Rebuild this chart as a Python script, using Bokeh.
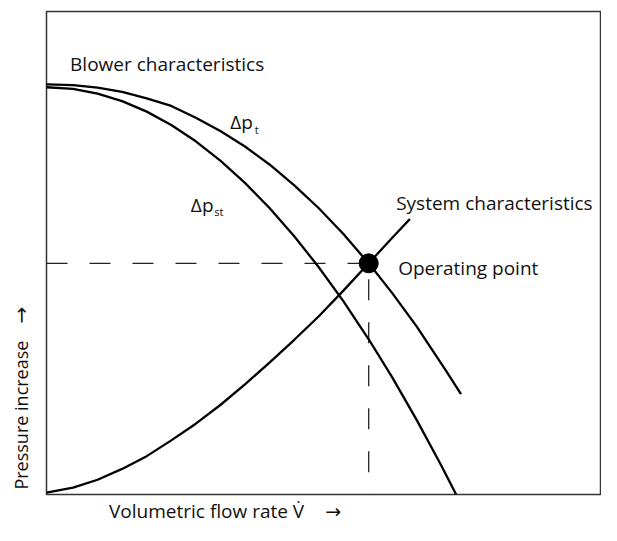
from bokeh.plotting import figure
from bokeh.models import Range1d, Label
from bokeh.embed import file_html
from bokeh.resources import INLINE
import math

# Blower characteristic: total pressure increase (Δp_t)
flow_t = [0, 4.79, 9.22, 13.65, 18.09, 22.52, 26.95, 31.38, 35.82, 40.25, 44.68,
          49.11, 53.55, 58.16, 62.41, 66.84, 72.16, 74.82]
dp_t = [84.93, 84.77, 84.26, 83.36, 82.02, 80.45, 78.00, 75.27, 72.06, 68.33, 64.07,
        59.31, 53.97, 47.86, 41.69, 34.75, 25.56, 20.77]

# Blower characteristic: static pressure increase (Δp_st)
flow_st = [0, 4.79, 9.22, 13.65, 18.09, 22.52, 26.95, 31.38, 35.82, 40.25, 44.68,
           49.11, 53.55, 58.16, 62.41, 66.84, 71.28, 73.94]
dp_st = [84.32, 83.97, 83.01, 81.45, 79.27, 76.50, 73.12, 69.12, 64.52, 59.33, 53.52,
         47.11, 40.08, 32.14, 24.24, 15.40, 5.95, 0]

# System characteristic
flow_sys = [0, 4.79, 9.22, 13.65, 18.09, 22.52, 26.95, 31.38, 35.82, 40.25, 44.68,
            49.11, 53.55, 58.16, 62.41, 65.60]
dp_sys = [0.41, 1.43, 3.05, 5.30, 7.94, 11.20, 14.66, 18.53, 22.81, 27.29, 31.98,
          36.86, 42.16, 47.86, 53.16, 57.03]

# Operating point
op_flow = [58.16]
op_dp = [47.86]

# Axis box limits (data units)
flow_max = 100
dp_max = 100

FONT = "Open Sans"
ARROW_FONT = "DejaVu Sans"
TXT = "#111111"

W, H = 601, 525
BOX_L, BOX_R, BOX_T, BOX_B = 46, 600, 11, 494   # pixel placement of the axis box
sx = (BOX_R - BOX_L) / flow_max
sy = (BOX_B - BOX_T) / dp_max

p = figure(width=W, height=H, output_backend="svg", toolbar_location=None,
           x_axis_type=None, y_axis_type=None,
           x_range=Range1d(-BOX_L / sx, (W - BOX_L) / sx),
           y_range=Range1d(-(H - BOX_B) / sy, dp_max + BOX_T / sy),
           min_border=0)
p.grid.visible = False
p.outline_line_color = None
p.background_fill_color = "white"
p.border_fill_color = "white"

# axis box
p.quad(left=[0], right=[flow_max], bottom=[0], top=[dp_max], fill_color=None,
       line_color="#333333", line_width=1.5)

# dashed guide lines to the operating point
p.line([0, op_flow[0]], [op_dp[0], op_dp[0]], line_color="#222222", line_width=1.3,
       line_dash="21 22")
p.line([op_flow[0], op_flow[0]], [op_dp[0], 0], line_color="#222222", line_width=1.3,
       line_dash="21 22", line_dash_offset=27)

p.line(flow_t, dp_t, line_color="black", line_width=2.3)
p.line(flow_st, dp_st, line_color="black", line_width=2.3)
p.line(flow_sys, dp_sys, line_color="black", line_width=2.3)

p.scatter(op_flow, op_dp, size=19, marker="circle", fill_color="black", line_color="black")

def lab(x, y, text, size="19px", angle=0.0, font=FONT):
    p.add_layout(Label(x=x, y=y, text=text, text_font=font, text_font_size=size,
                       text_color=TXT, text_align="left", text_baseline="alphabetic",
                       angle=angle, angle_units="rad"))

lab(4.26, 89.05, "Blower characteristics")
lab(33.16, 77.19, "Δp")
lab(37.6, 75.63, "t", size="11px")
lab(26.06, 59.98, "Δp")
lab(30.3, 58.52, "st", size="11px")
lab(63.12, 60.39, "System characteristics")
lab(63.48, 46.89, "Operating point")
lab(11.29, -3.42, "Volumetric flow rate V\u0307")
lab(50.3, -3.42, "\u2192", font=ARROW_FONT)
lab(-4.69, 1.02, "Pressure increase", size="18px", angle=math.pi / 2)
lab(-4.69, 35.4, "\u2192", size="20px", angle=math.pi / 2, font=ARROW_FONT)

open("out.html", "w").write(file_html(p, INLINE))
